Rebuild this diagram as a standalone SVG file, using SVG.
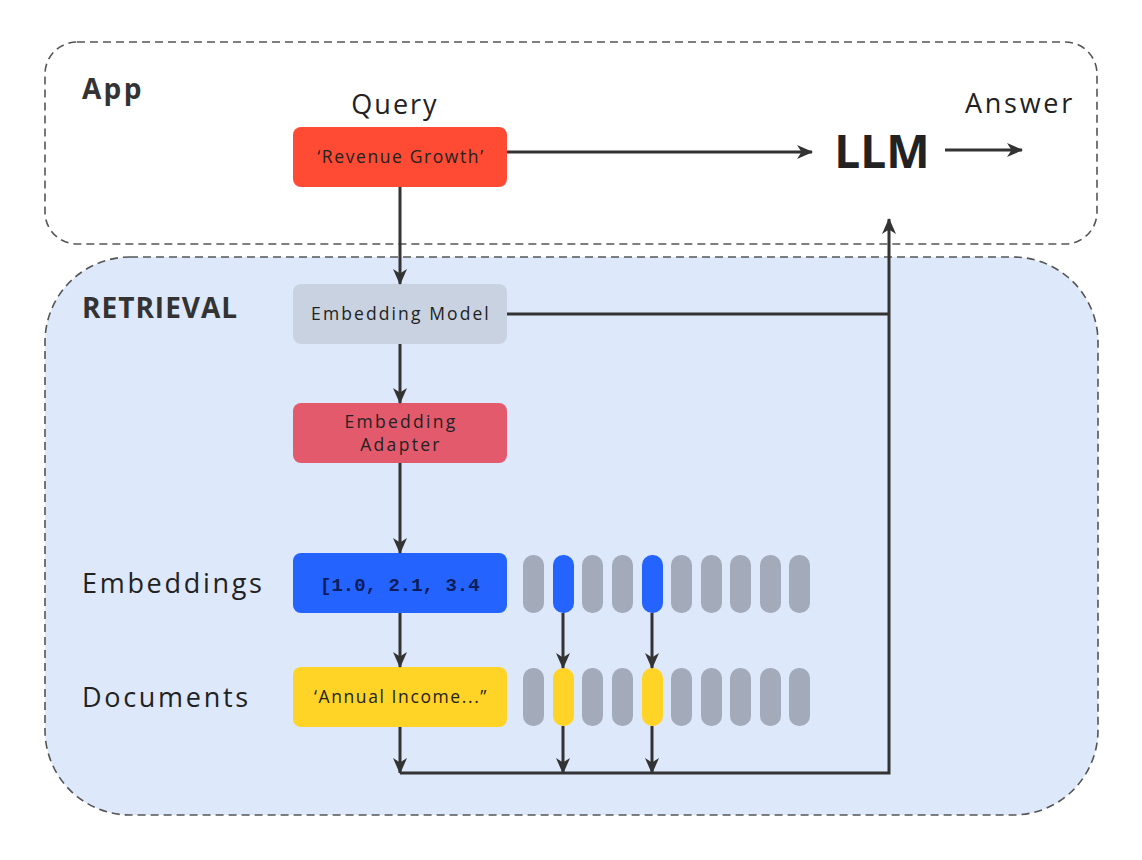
<svg xmlns="http://www.w3.org/2000/svg" width="1142" height="860" viewBox="0 0 1142 860">
<style>
.t{font-family:"Open Sans","Liberation Sans",sans-serif;fill:#222}
.lbl{font-size:27px;letter-spacing:2.7px}
.hd{font-size:28px;font-weight:bold;fill:#333;letter-spacing:1px}
.bx{font-size:17.5px;letter-spacing:1.6px}
.ln{stroke:#333;stroke-width:3;fill:none}
.pill{fill:#a3abba}
.frame{stroke:#555;stroke-width:1.6;stroke-dasharray:8 5}
</style>
<defs>
<marker id="ah" markerWidth="16" markerHeight="16" viewBox="0 0 16 16" refX="15" refY="8" orient="auto" markerUnits="userSpaceOnUse">
<path d="M0,1 L16,8 L0,15 L4.5,8 z" fill="#333"/>
</marker>
</defs>
<rect width="1142" height="860" fill="#fff"/>
<g id="app">
<rect class="frame" x="45" y="42" width="1052" height="202" rx="32" fill="#fff"/>
<text class="t hd" x="82" y="99" style="letter-spacing:2.3px">App</text>
</g>
<g id="retrieval">
<rect class="frame" x="45" y="257" width="1053" height="558" rx="85" fill="#dee8fb"/>
<text class="t hd" x="82" y="318">RETRIEVAL</text>
</g>
<g id="query">
<text class="t lbl" x="395" y="114" text-anchor="middle" style="letter-spacing:2px">Query</text>
<rect x="293" y="127" width="214" height="60" rx="8" fill="#ff4b33"/>
<text class="t bx" x="401" y="163" text-anchor="middle">‘Revenue Growth’</text>
</g>
<g id="llm">
<text class="t" x="882" y="168" text-anchor="middle" font-size="46" font-weight="bold" fill="#333">LLM</text>
</g>
<g id="answer">
<text class="t lbl" x="1020" y="113" text-anchor="middle">Answer</text>
</g>
<g id="embedding-model">
<rect x="293" y="284" width="214" height="60" rx="8" fill="#c8d2e0"/>
<text class="t bx" x="401" y="320" text-anchor="middle" style="letter-spacing:2.1px">Embedding Model</text>
</g>
<g id="embedding-adapter">
<rect x="293" y="403" width="214" height="60" rx="8" fill="#e35a6d"/>
<text class="t bx" x="401" y="428" text-anchor="middle" fill="#5a0b16" style="letter-spacing:2.3px">Embedding</text>
<text class="t bx" x="401" y="451" text-anchor="middle" fill="#5a0b16" style="letter-spacing:2.3px">Adapter</text>
</g>
<g id="embeddings">
<text class="t lbl" x="82" y="593">Embeddings</text>
<rect x="293" y="553" width="214" height="60" rx="8" fill="#2563ff"/>
<text x="320" y="591" font-family="'Liberation Mono',monospace" font-size="19" font-weight="bold" fill="#0c1d5a">[1.0, 2.1, 3.4</text>
</g>
<g id="embedding-vectors">
<rect class="pill" x="523" y="555" width="21" height="58" rx="10"/>
<rect x="553" y="555" width="21" height="58" rx="10" fill="#2563ff"/>
<rect class="pill" x="582" y="555" width="21" height="58" rx="10"/>
<rect class="pill" x="612" y="555" width="21" height="58" rx="10"/>
<rect x="642" y="555" width="21" height="58" rx="10" fill="#2563ff"/>
<rect class="pill" x="671" y="555" width="21" height="58" rx="10"/>
<rect class="pill" x="701" y="555" width="21" height="58" rx="10"/>
<rect class="pill" x="730" y="555" width="21" height="58" rx="10"/>
<rect class="pill" x="760" y="555" width="21" height="58" rx="10"/>
<rect class="pill" x="789" y="555" width="21" height="58" rx="10"/>
</g>
<g id="documents">
<text class="t lbl" x="82" y="707">Documents</text>
<rect x="293" y="667" width="214" height="60" rx="8" fill="#ffd426"/>
<text class="t bx" x="401" y="703" text-anchor="middle">‘Annual Income...”</text>
</g>
<g id="document-vectors">
<rect class="pill" x="523" y="668" width="21" height="58" rx="10"/>
<rect x="553" y="668" width="21" height="58" rx="10" fill="#ffd426"/>
<rect class="pill" x="582" y="668" width="21" height="58" rx="10"/>
<rect class="pill" x="612" y="668" width="21" height="58" rx="10"/>
<rect x="642" y="668" width="21" height="58" rx="10" fill="#ffd426"/>
<rect class="pill" x="671" y="668" width="21" height="58" rx="10"/>
<rect class="pill" x="701" y="668" width="21" height="58" rx="10"/>
<rect class="pill" x="730" y="668" width="21" height="58" rx="10"/>
<rect class="pill" x="760" y="668" width="21" height="58" rx="10"/>
<rect class="pill" x="789" y="668" width="21" height="58" rx="10"/>
</g>
<g id="connectors">
<line class="ln" x1="507" y1="152" x2="812" y2="152" marker-end="url(#ah)"/>
<line class="ln" x1="945" y1="150" x2="1022" y2="150" marker-end="url(#ah)"/>
<line class="ln" x1="400" y1="187" x2="400" y2="284" marker-end="url(#ah)"/>
<line class="ln" x1="400" y1="344" x2="400" y2="403" marker-end="url(#ah)"/>
<line class="ln" x1="400" y1="463" x2="400" y2="553" marker-end="url(#ah)"/>
<line class="ln" x1="400" y1="613" x2="400" y2="667" marker-end="url(#ah)"/>
<line class="ln" x1="400" y1="727" x2="400" y2="773" marker-end="url(#ah)"/>
<line class="ln" x1="563" y1="613" x2="563" y2="668" marker-end="url(#ah)"/>
<line class="ln" x1="652" y1="613" x2="652" y2="668" marker-end="url(#ah)"/>
<line class="ln" x1="563" y1="726" x2="563" y2="773" marker-end="url(#ah)"/>
<line class="ln" x1="652" y1="726" x2="652" y2="773" marker-end="url(#ah)"/>
<line class="ln" x1="507" y1="314" x2="889" y2="314"/>
<polyline class="ln" points="400,773 889,773 889,219" marker-end="url(#ah)"/>
</g>
</svg>
